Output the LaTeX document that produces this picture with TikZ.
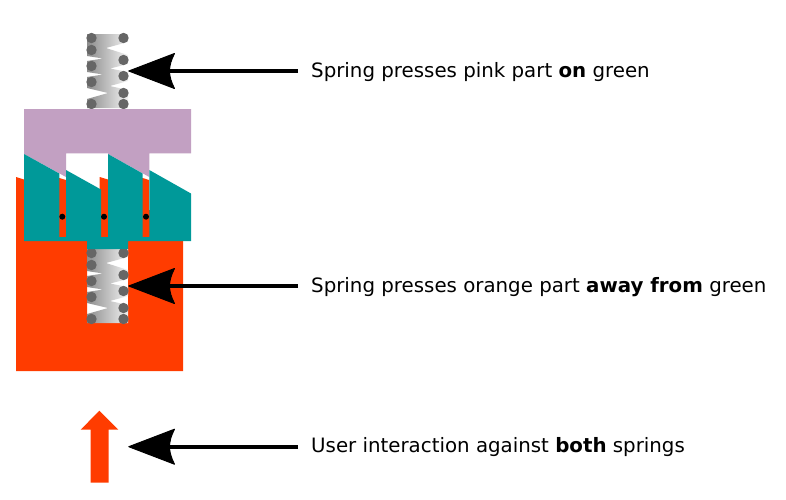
\documentclass[tikz,border=0pt]{standalone}
\usepackage{fontspec}
\setmainfont{DejaVu Sans}
\usepackage{tikz}
\usetikzlibrary{arrows.meta}

\definecolor{pinkpart}{RGB}{194,160,194}
\definecolor{greenpart}{RGB}{0,153,153}
\definecolor{orangepart}{RGB}{255,60,0}
\definecolor{coildot}{RGB}{102,102,102}

% black head with a hollowed, curved back
\pgfdeclarearrow{
  name=Barb,
  setup code={
    \pgfarrowssettipend{0pt}
    \pgfarrowssetbackend{-47pt}
    \pgfarrowssetlineend{-40pt}
    \pgfarrowssetvisualbackend{-42pt}
    \pgfarrowshullpoint{0pt}{0pt}
    \pgfarrowshullpoint{-47pt}{18pt}
    \pgfarrowshullpoint{-47pt}{-18pt}
  },
  drawing code={
    \pgfsetroundjoin
    \pgfsetlinewidth{1pt}
    \pgfpathmoveto{\pgfpoint{-0.8pt}{0pt}}
    \pgfpathlineto{\pgfpoint{-46.5pt}{17.5pt}}
    \pgfpathcurveto{\pgfpoint{-43pt}{11pt}}{\pgfpoint{-41.5pt}{5pt}}{\pgfpoint{-41.5pt}{0pt}}
    \pgfpathcurveto{\pgfpoint{-41.5pt}{-5pt}}{\pgfpoint{-43pt}{-11pt}}{\pgfpoint{-46.5pt}{-17.5pt}}
    \pgfpathclose
    \pgfusepathqfillstroke
  }
}

\begin{document}
\begin{tikzpicture}[
    x=1pt,
    y=-1pt,
    >=Barb,
    callout/.style={->,line width=4pt},
    remark/.style={anchor=west,inner xsep=13pt,inner ysep=0pt,font=\fontsize{19.8pt}{24pt}\selectfont,text height=14pt,text depth=2pt}
]

\useasboundingbox (0,0) rectangle (786,499);

% orange part, open at the top for the lower spring
\fill[orangepart,even odd rule]
(16,177) -- (24,179.5) -- (59.3,178) -- (66,180) -- (66,200) -- (99.7,200) -- (99.7,177)
-- (108,179.5) -- (142.7,178) -- (149,180) -- (149,210) -- (183,210)
-- (183,371) -- (16,371) -- cycle
(87,241) rectangle (128,323);

% both springs have the same outline
\foreach \springy in {0,215}{
\begin{scope}[shift={(0,\springy)}]
\shade[left color=black!45,right color=black!5]
(87,34) -- (128,34) -- (128,42) -- (106,48) -- (128,55)
-- (128,64) -- (110,68.5) -- (128,72) -- (128,81)
-- (110,86) -- (128,90) -- (128,108) -- (87,108)
-- (87,99) -- (108,93) -- (87,88) -- (87,77)
-- (103,74.5) -- (87,72) -- (87,61) -- (103,58.5)
-- (87,56) -- cycle;
\foreach \coily in {38,50,66,82,104}
    \fill[coildot] (91.5,\coily) circle (5.2);
\foreach \coily in {38,60,76,93,104}
    \fill[coildot] (123.5,\coily) circle (5.2);
\end{scope}
}

% pink part
\fill[pinkpart]
(24,109) -- (191,109) -- (191,153.3) -- (149.3,153.3) -- (149.3,177)
-- (108,154) -- (108,153.3) -- (66,153.3) -- (66,177) -- (24,154) -- cycle;

% green part
\fill[greenpart]
(24,154) -- (59.3,173.5) -- (59.3,237) -- (66,237) -- (66,170)
-- (101,189.5) -- (101,237) -- (108,237) -- (108,154) -- (142.7,173.5)
-- (142.7,237) -- (149.3,237) -- (149.3,170) -- (191,193.5) -- (191,241)
-- (128,241) -- (128,249) -- (87,249) -- (87,241) -- (24,241) -- cycle;

\foreach \pivotx in {62.3,104,146}
    \fill[black] (\pivotx,216.7) circle (3);

% user push
\fill[orangepart]
(99.3,410.7) -- (118.3,429.7) -- (108.7,429.7) -- (108.7,482.7)
-- (90.7,482.7) -- (90.7,429.7) -- (80.7,429.7) -- cycle;

\coordinate (topspring) at (128,71);
\coordinate (lowspring) at (128,286);
\coordinate (userpush) at (128,446.7);

\node[remark] (toplabel) at (298,71) {Spring presses pink part \textbf{on} green};
\node[remark] (lowlabel) at (298,286) {Spring presses orange part \textbf{away from} green};
\node[remark] (userlabel) at (298,446.7) {User interaction against \textbf{both} springs};

\draw[callout] (toplabel.west) -- (topspring);
\draw[callout] (lowlabel.west) -- (lowspring);
\draw[callout] (userlabel.west) -- (userpush);

\end{tikzpicture}
\end{document}
